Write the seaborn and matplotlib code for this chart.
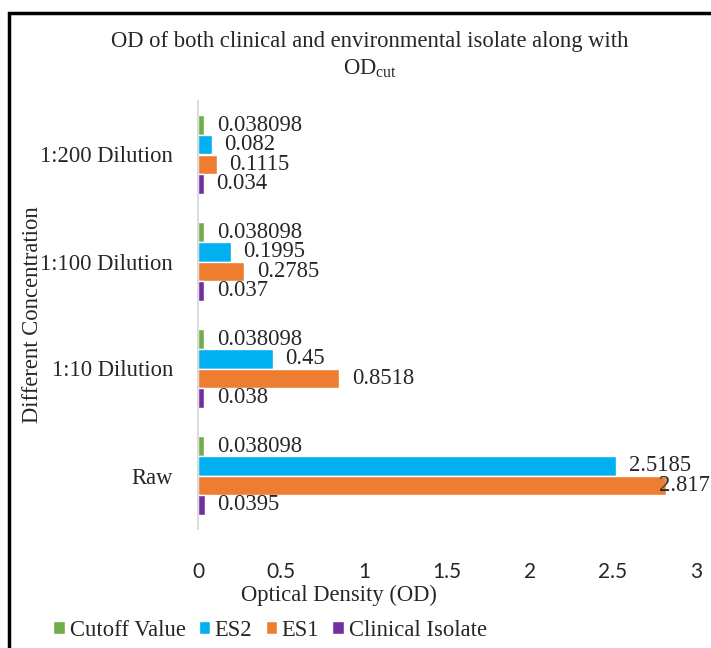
import pandas as pd
import matplotlib
matplotlib.use('Agg')
import matplotlib.pyplot as plt
import seaborn as sns
from matplotlib.patches import Rectangle

sns.set_theme(style='white')
plt.rcParams['font.family'] = ['Liberation Serif', 'DejaVu Serif']
plt.rcParams['mathtext.fontset'] = 'custom'
plt.rcParams['mathtext.rm'] = 'Liberation Serif'

# data
concentrations = ['1:200 Dilution', '1:100 Dilution', '1:10 Dilution', 'Raw']
series = ['Cutoff Value', 'ES2', 'ES1', 'Clinical Isolate']
cutoff_vals = [0.038098, 0.038098, 0.038098, 0.038098]
es2_vals = [0.082, 0.1995, 0.45, 2.5185]
es1_vals = [0.1115, 0.2785, 0.8518, 2.817]
clinical_vals = [0.034, 0.037, 0.038, 0.0395]
colors = ['#70AD47', '#00B0F0', '#ED7D31', '#7030A0']
x_ticks = [0, 0.5, 1, 1.5, 2, 2.5, 3]

rows = []
for name, vals in zip(series, [cutoff_vals, es2_vals, es1_vals, clinical_vals]):
    for conc, v in zip(concentrations, vals):
        rows.append({'Concentration': conc, 'Series': name, 'OD': v})
df = pd.DataFrame(rows)

FS = 16.3
W, H = 711, 648
fig = plt.figure(figsize=(W / 100, H / 100), dpi=100)
ax = fig.add_axes([198 / W, 1 - 529 / H, (696 - 198) / W, (529 - 101) / H])

sns.barplot(data=df, x='OD', y='Concentration', hue='Series', order=concentrations,
            hue_order=series, palette=colors, width=0.73, orient='h', ax=ax,
            saturation=1, errorbar=None)

ax.set_xlim(0, 3)
ax.set_xticks(x_ticks)
ax.set_xticklabels([f'{t:g}' for t in x_ticks], family='Lato', fontsize=15)
ax.tick_params(axis='x', length=0, pad=24)
ax.tick_params(axis='y', length=0, pad=18, labelsize=FS)
ax.set_xlabel('')
ax.set_ylabel('')
for side in ['top', 'right', 'bottom']:
    ax.spines[side].set_visible(False)
ax.spines['left'].set_color('#D9D9D9')
ax.spines['left'].set_linewidth(1.3)
ax.grid(False)

# value labels
labels = []
for cont in ax.containers:
    labels += ax.bar_label(cont, fmt='{:g}', padding=9, fontsize=FS)

handles, names = ax.get_legend_handles_labels()
ax.get_legend().remove()
fig.legend(handles, names, loc='center', bbox_to_anchor=(270 / W, 1 - 630 / H), ncol=4,
           frameon=False, fontsize=FS, handlelength=0.5, handleheight=0.5,
           handletextpad=0.22, columnspacing=0.58)

fig.text(370 / W, 1 - 47 / H, 'OD of both clinical and environmental isolate along with',
         ha='center', va='baseline', fontsize=FS)
fig.text(370 / W, 1 - 74 / H, r'OD$_{\mathrm{cut}}$', ha='center', va='baseline', fontsize=FS)
fig.text(339 / W, 1 - 595 / H, 'Optical Density (OD)', ha='center', va='center', fontsize=FS)
fig.text(33 / W, 1 - 315 / H, 'Different Concentration', ha='center', va='center',
         rotation=90, fontsize=FS)

# outer frame like the exported chart
fig.patches.append(Rectangle((9 / W, -0.1), 1.2, 1 - 13 / H + 0.1, transform=fig.transFigure,
                             fill=False, edgecolor='black', linewidth=2.5))

# keep labels inside the picture
fig.canvas.draw()
renderer = fig.canvas.get_renderer()
for t in labels:
    bb = t.get_window_extent(renderer)
    if bb.x1 > W - 1:
        dx, dy = t.xyann
        t.xyann = (dx - (bb.x1 - W + 1) * 72 / 100, dy)

fig.savefig('out.png', dpi=100)
